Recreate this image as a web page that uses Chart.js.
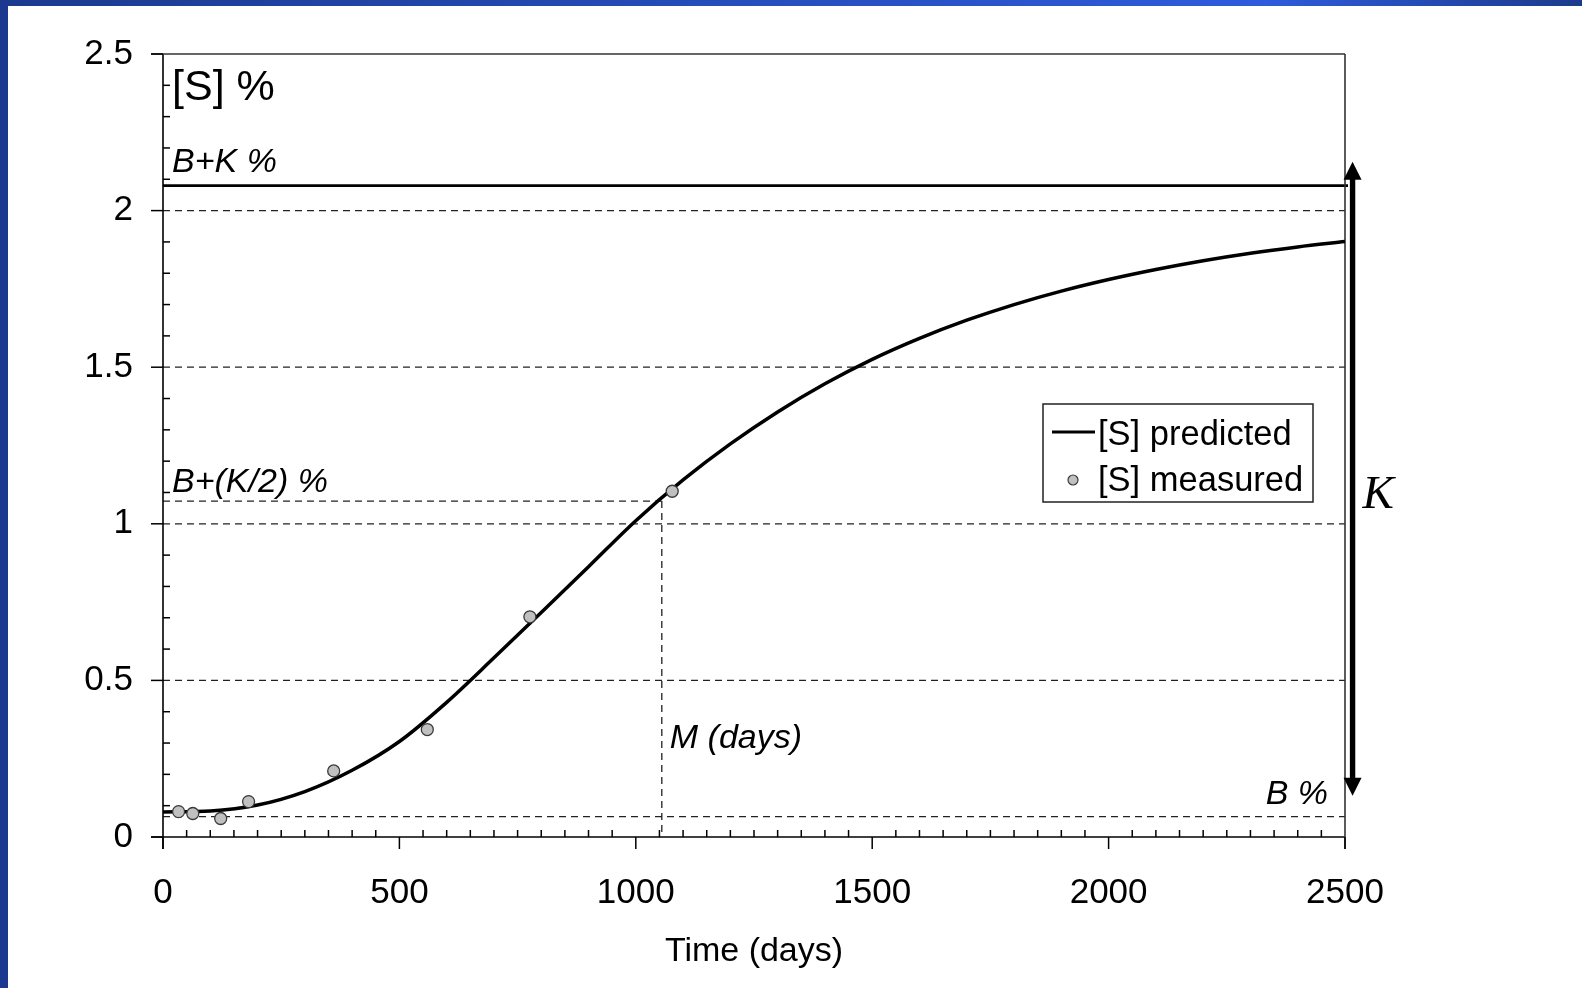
<!DOCTYPE html>
<html>
<head>
<meta charset="utf-8">
<title>[S] predicted vs measured</title>
<script src="https://cdn.jsdelivr.net/npm/chart.js@4.4.0/dist/chart.umd.min.js"></script>
<style>
  html, body { margin: 0; padding: 0; background: #fff; }
  canvas { display: block; }
</style>
</head>
<body>
<canvas id="chart" width="1582" height="988"></canvas>
<script>
// predicted [S] curve, read every 100 days
const predictedDays = [0, 100, 200, 300, 400, 500, 600, 700, 800, 900, 1000, 1100, 1200,
  1300, 1400, 1500, 1600, 1700, 1800, 1900, 2000, 2100, 2200, 2300, 2400, 2500];
const predictedS = [0.080, 0.083, 0.102, 0.145, 0.213, 0.305, 0.430, 0.572, 0.717, 0.863, 1.010,
  1.140, 1.255, 1.357, 1.447, 1.525, 1.592, 1.650, 1.700, 1.743, 1.780, 1.812, 1.840, 1.864, 1.884, 1.901];

// measured samples
const measuredDays = [33, 63, 122, 181, 361, 559, 776, 1077];
const measuredS = [0.081, 0.075, 0.059, 0.113, 0.211, 0.343, 0.703, 1.104];

const xTicks = [0, 500, 1000, 1500, 2000, 2500];
const yTicks = [0, 0.5, 1, 1.5, 2, 2.5];
const yGrid = [0.5, 1, 1.5, 2];

// parameters marked on the chart
const B = 0.065;
const K = 2.015;
const M = 1055;
// the K arrow (day, low end, high end)
const arrowDay = 2516;
const arrowLow = 0.132;
const arrowHigh = 2.156;

const FONT = '"Liberation Sans", Arial, sans-serif';

function hline(ctx, x1, x2, y) {
  ctx.beginPath(); ctx.moveTo(x1, y); ctx.lineTo(x2, y); ctx.stroke();
}
function vline(ctx, x, y1, y2) {
  ctx.beginPath(); ctx.moveTo(x, y1); ctx.lineTo(x, y2); ctx.stroke();
}

const decorations = {
  id: 'decorations',
  beforeDraw(chart) {
    const {ctx, width, height} = chart;
    ctx.save();
    ctx.fillStyle = '#fff';
    ctx.fillRect(0, 0, width, height);
    const g = ctx.createLinearGradient(0, 0, width, 0);
    g.addColorStop(0, '#1b3a8e');
    g.addColorStop(0.8, '#2f5bdc');
    g.addColorStop(1, '#1c3b8c');
    ctx.fillStyle = g;
    ctx.fillRect(0, 0, width, 6);
    ctx.fillStyle = '#1b3a8f';
    ctx.fillRect(0, 0, 8, height);
    ctx.restore();
  },
  beforeDatasetsDraw(chart) {
    const {ctx, chartArea: a, scales: {x, y}} = chart;
    ctx.save();

    // dashed grid and B, B+K/2, M guides
    ctx.strokeStyle = '#222';
    ctx.lineWidth = 1.3;
    ctx.setLineDash([7, 5]);
    yGrid.forEach(v => hline(ctx, a.left, a.right, y.getPixelForValue(v)));
    hline(ctx, a.left, a.right, y.getPixelForValue(B));
    const mx = x.getPixelForValue(M);
    hline(ctx, a.left, mx, y.getPixelForValue(B + K / 2));
    vline(ctx, mx, y.getPixelForValue(B + K / 2), a.bottom);
    ctx.setLineDash([]);

    // B+K line
    ctx.strokeStyle = '#000';
    ctx.lineWidth = 2.7;
    hline(ctx, a.left, a.right + 3, y.getPixelForValue(B + K));

    // frame
    ctx.lineWidth = 1.6;
    ctx.strokeStyle = '#000';
    vline(ctx, a.left, a.top, a.bottom + 12);
    hline(ctx, a.left - 12, a.right, a.bottom);
    ctx.strokeStyle = '#333';
    hline(ctx, a.left - 12, a.right, a.top);
    vline(ctx, a.right, a.top, a.bottom + 12);

    // ticks
    ctx.strokeStyle = '#000';
    ctx.lineWidth = 1.5;
    yTicks.forEach(v => hline(ctx, a.left - 12, a.left, y.getPixelForValue(v)));
    xTicks.forEach(v => vline(ctx, x.getPixelForValue(v), a.bottom, a.bottom + 12));
    for (let i = 1; i < 25; i++) {
      if (i % 5) hline(ctx, a.left, a.left + 7, y.getPixelForValue(i / 10));
    }
    for (let i = 1; i < 50; i++) {
      if (i % 10) vline(ctx, x.getPixelForValue(i * 50), a.bottom, a.bottom - 7);
    }
    ctx.restore();
  },
  afterDatasetsDraw(chart) {
    const {ctx, chartArea: a, scales: {x, y}} = chart;
    ctx.save();
    ctx.fillStyle = '#000';
    ctx.textBaseline = 'alphabetic';

    // labels
    ctx.font = '43px ' + FONT;
    ctx.fillText('[S] %', a.left + 9, a.top + 46);
    ctx.font = 'italic 34px ' + FONT;
    ctx.fillText('B+K %', a.left + 9, y.getPixelForValue(B + K) - 14);
    ctx.fillText('B+(K/2) %', a.left + 9, y.getPixelForValue(B + K / 2) - 9);
    ctx.fillText('M (days)', x.getPixelForValue(M) + 8, y.getPixelForValue(0.285));
    ctx.textAlign = 'right';
    ctx.fillText('B %', a.right - 17, y.getPixelForValue(B) - 13);
    ctx.textAlign = 'left';

    // K arrow
    const ax = x.getPixelForValue(arrowDay);
    const yTop = y.getPixelForValue(arrowHigh);
    const yBot = y.getPixelForValue(arrowLow);
    ctx.fillRect(ax - 2.7, yTop + 16, 5.4, yBot - yTop - 32);
    ctx.beginPath();
    ctx.moveTo(ax, yTop); ctx.lineTo(ax - 9, yTop + 18); ctx.lineTo(ax + 9, yTop + 18);
    ctx.closePath(); ctx.fill();
    ctx.beginPath();
    ctx.moveTo(ax, yBot); ctx.lineTo(ax - 9, yBot - 18); ctx.lineTo(ax + 9, yBot - 18);
    ctx.closePath(); ctx.fill();
    ctx.font = 'italic 47px "Liberation Serif", "Times New Roman", serif';
    ctx.fillText('K', ax + 10, y.getPixelForValue(1.05));

    // legend
    const lx = a.right - 302, ly = a.top + 350;
    ctx.fillStyle = '#fff';
    ctx.fillRect(lx, ly, 270, 98);
    ctx.strokeStyle = '#222';
    ctx.lineWidth = 1.5;
    ctx.strokeRect(lx, ly, 270, 98);
    ctx.strokeStyle = '#000';
    ctx.lineWidth = 3;
    hline(ctx, lx + 9, lx + 52, ly + 28);
    ctx.beginPath();
    ctx.arc(lx + 30, ly + 76, 5, 0, Math.PI * 2);
    ctx.fillStyle = '#c0c0c0';
    ctx.fill();
    ctx.lineWidth = 1.2;
    ctx.strokeStyle = '#3a3a3a';
    ctx.stroke();
    ctx.fillStyle = '#000';
    ctx.font = '34.5px ' + FONT;
    ctx.fillText('[S] predicted', lx + 55, ly + 41);
    ctx.fillText('[S] measured', lx + 55, ly + 87);
    ctx.restore();
  }
};

new Chart(document.getElementById('chart'), {
  type: 'scatter',
  data: {
    datasets: [
      {
        label: '[S] measured',
        data: measuredDays.map((d, i) => ({x: d, y: measuredS[i]})),
        pointRadius: 6,
        pointBackgroundColor: '#c0c0c0',
        pointBorderColor: '#3a3a3a',
        pointBorderWidth: 1.3,
        order: 0
      },
      {
        label: '[S] predicted',
        data: predictedDays.map((d, i) => ({x: d, y: predictedS[i]})),
        showLine: true,
        borderColor: '#000',
        borderWidth: 3.5,
        pointRadius: 0,
        cubicInterpolationMode: 'monotone',
        order: 1
      }
    ]
  },
  options: {
    responsive: false,
    animation: false,
    devicePixelRatio: 1,
    layout: {padding: {left: 63, right: 237, top: 54, bottom: 1}},
    plugins: {legend: {display: false}, tooltip: {enabled: false}},
    scales: {
      x: {
        type: 'linear',
        min: 0,
        max: 2500,
        afterBuildTicks: s => { s.ticks = xTicks.map(v => ({value: v})); },
        afterFit: s => { s.height = 150; },
        grid: {display: false},
        border: {display: false},
        ticks: {color: '#000', font: {size: 35, family: FONT}, padding: 27, maxRotation: 0,
          callback: v => String(v)},
        title: {display: true, text: 'Time (days)', color: '#000',
          font: {size: 34, family: FONT}, padding: {top: 0, bottom: 15}}
      },
      y: {
        type: 'linear',
        min: 0,
        max: 2.5,
        afterBuildTicks: s => { s.ticks = yTicks.map(v => ({value: v})); },
        afterFit: s => { s.width = 100; },
        grid: {display: false},
        border: {display: false},
        ticks: {color: '#000', font: {size: 35, family: FONT}, padding: 22,
          callback: v => String(v)}
      }
    }
  },
  plugins: [decorations]
});
</script>
</body>
</html>
